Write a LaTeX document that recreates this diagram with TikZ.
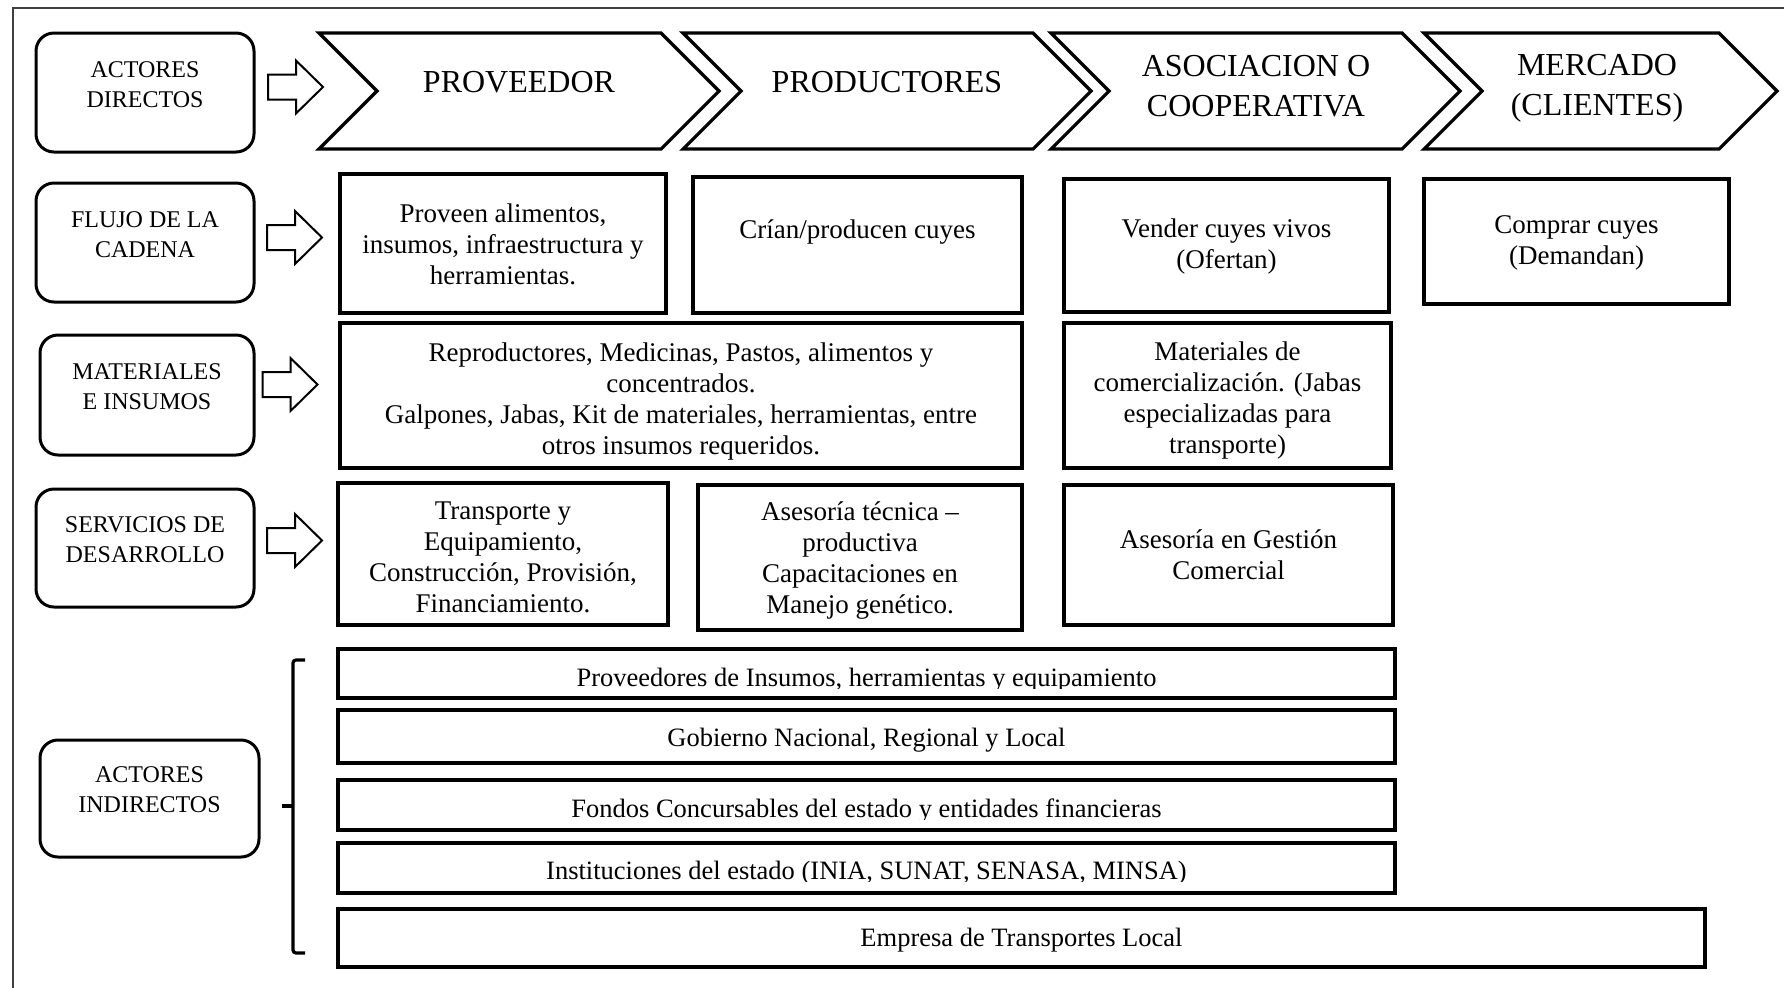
\documentclass[tikz,border=0pt]{standalone}
\usepackage{fontspec}
\setmainfont{Liberation Serif}
\usetikzlibrary{fit}

\tikzset{
  frameline/.style={line width=1pt, black!75},
  lab/.style={draw, line width=1.5pt, rounded corners=9pt, inner sep=0pt},
  labtxt/.style={align=center, inner sep=0pt, font=\fontsize{12}{15}\selectfont},
  chev/.style={draw, line width=1.6pt, line join=miter},
  headtxt/.style={align=center, inner sep=0pt, font=\fontsize{16}{20}\selectfont},
  cbox/.style={draw, line width=1.6pt, inner sep=0pt},
  ctxt/.style={align=center, inner sep=0pt, font=\fontsize{13.5}{15.5}\selectfont},
  ibox/.style={draw, line width=1.6pt, inner sep=0pt},
  itxt/.style={anchor=base, inner sep=0pt, font=\fontsize{13.25}{15.5}\selectfont},
  brace/.style={line width=1.6pt, rounded corners=1.5pt},
  flowarrow/.pic={
    \draw[line width=1pt, line join=miter]
      (-27.5,-12.5) -- (0.5,-12.5) -- (0.5,-26.5) -- (27.5,0)
      -- (0.5,26.5) -- (0.5,12.5) -- (-27.5,12.5) -- cycle;
  }
}

\begin{document}
\begin{tikzpicture}[x=0.5pt, y=-0.5pt]
\useasboundingbox (0,0) rectangle (1784,987);

% page frame (open to the right and bottom)
\draw[frameline] (13,1010) -- (13,8) -- (1800,8);

% ---- row labels ----
\node[lab, fit={(36,33) (254,152)}] (lDir) {};
\node[labtxt] (lDirT) at (145,84.5) {ACTORES\\DIRECTOS};
\node[lab, fit={(36,183) (254,302)}] (lFlu) {};
\node[labtxt] (lFluT) at (145,234.5) {FLUJO DE LA\\CADENA};
\node[lab, fit={(40,335) (254,455)}] (lMat) {};
\node[labtxt] (lMatT) at (147,386.5) {MATERIALES\\E INSUMOS};
\node[lab, fit={(36,489) (254,607)}] (lSer) {};
\node[labtxt] (lSerT) at (145,540) {SERVICIOS DE\\DESARROLLO};
\node[lab, fit={(40,740) (259,857)}] (lInd) {};
\node[labtxt] (lIndT) at (149.5,790) {ACTORES\\INDIRECTOS};

% ---- hollow arrows ----
\pic at (295.5,87) {flowarrow};
\pic at (294.5,237.5) {flowarrow};
\pic at (290,384.5) {flowarrow};
\pic at (294.5,540.5) {flowarrow};

% ---- value chain chevrons ----
\foreach \L/\R in {319/661, 683/1033, 1051/1402, 1424/1719}{
  \draw[chev] (\L,33) -- (\R,33) -- ({\R+58},91) -- (\R,149) -- (\L,149)
    -- ({\L+58},91) -- cycle;
}
\node[headtxt] (hProv) at (519,82.5) {PROVEEDOR};
\node[headtxt] (hProd) at (887,82.5) {PRODUCTORES};
\node[headtxt] (hAsoc) at (1256,86) {ASOCIACION O\\COOPERATIVA};
\node[headtxt] (hMerc) at (1597,88) {MERCADO\\(CLIENTES)};

% ---- flow of the chain ----
\node[cbox, fit={(340,174) (666,313)}] (fProv) {};
\node[ctxt] (fProvT) at (503,244) {Proveen alimentos,\\insumos, infraestructura y\\herramientas.};
\node[cbox, fit={(693,177) (1022,313)}] (fProd) {};
\node[ctxt] (fProdT) at (857.5,232) {Crían/producen cuyes};
\node[cbox, fit={(1064,179) (1389,312)}] (fAsoc) {};
\node[ctxt] (fAsocT) at (1226.5,246) {Vender cuyes vivos\\(Ofertan)};
\node[cbox, fit={(1424,179) (1729,304)}] (fMerc) {};
\node[ctxt] (fMercT) at (1576.5,242.5) {Comprar cuyes\\(Demandan)};

% ---- materials and inputs ----
\node[cbox, fit={(340,323) (1022,468)}] (mProd) {};
\node[ctxt] (mProdT) at (681,401) {Reproductores, Medicinas, Pastos, alimentos y\\concentrados.\\Galpones, Jabas, Kit de materiales, herramientas, entre\\otros insumos requeridos.};
\node[cbox, fit={(1064,323) (1391,468)}] (mAsoc) {};
\node[ctxt] (mAsocT) at (1227.5,400.5) {Materiales de\\comercialización. (Jabas\\especializadas para\\transporte)};

% ---- development services ----
\node[cbox, fit={(338,483) (668,625)}] (sProv) {};
\node[ctxt] (sProvT) at (503,557.5) {Transporte y\\Equipamiento,\\Construcción, Provisión,\\Financiamiento.};
\node[cbox, fit={(698,485) (1022,630)}] (sProd) {};
\node[ctxt] (sProdT) at (860,561) {Asesoría técnica –\\productiva\\Capacitaciones en\\Manejo genético.};
\node[cbox, fit={(1064,485) (1393,625)}] (sAsoc) {};
\node[ctxt] (sAsocT) at (1228.5,555) {Asesoría en Gestión\\Comercial};

% ---- indirect actors ----
\node[ibox, fit={(338,649) (1395,698)}] (i1) {};
\node[ibox, fit={(338,710) (1395,763)}] (i2) {};
\node[ibox, fit={(338,780) (1395,830)}] (i3) {};
\node[ibox, fit={(338,843) (1395,893)}] (i4) {};
\node[ibox, fit={(338,909) (1705,967)}] (i5) {};

\begin{scope}
  \clip (338,649) rectangle (1395,688);
  \node[itxt] (i1t) at (866.5,686) {Proveedores de Insumos, herramientas y equipamiento};
\end{scope}
\node[itxt] (i2t) at (866.5,746) {Gobierno Nacional, Regional y Local};
\begin{scope}
  \clip (338,780) rectangle (1395,819);
  \node[itxt] (i3t) at (866.5,817) {Fondos Concursables del estado y entidades financieras};
\end{scope}
\begin{scope}
  \clip (338,843) rectangle (1395,881);
  \node[itxt] (i4t) at (866.5,879) {Instituciones del estado (INIA, SUNAT, SENASA, MINSA)};
\end{scope}
\node[itxt] (i5t) at (1021.5,946) {Empresa de Transportes Local};

% bracket grouping the indirect actors
\draw[brace] (305,660) -- (293,660) -- (293,953) -- (305,953);
\draw[brace] (282,806) -- (293,806);

\end{tikzpicture}
\end{document}
